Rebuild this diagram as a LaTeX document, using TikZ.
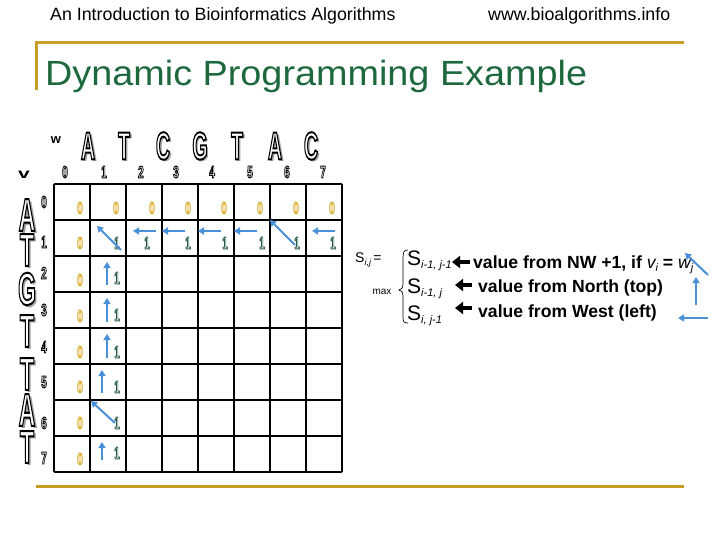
\documentclass[tikz,border=0pt]{standalone}
\usepackage{fontspec}
\setmainfont{Liberation Sans}
\usepackage{graphicx}
\usetikzlibrary{arrows.meta}
\definecolor{gold}{RGB}{198,158,40}
\definecolor{titlegreen}{RGB}{30,104,62}
\definecolor{arrowblue}{RGB}{74,144,217}
\definecolor{shadowgray}{RGB}{160,160,160}
% outlined (hollow) text: fill white, stroke in given rgb, via PDF text render mode 2
\newcommand\OT[4]{\special{pdf:literal direct #1 RG 2 Tr #2 w}\scalebox{#3}[1]{#4}\special{pdf:literal direct 0 Tr 0.4 w}}
\newcommand\BL[1]{\OT{0 0 0}{2.0}{0.5}{#1}}
\newcommand\BS[1]{\scalebox{0.5}[1]{#1}}
\newcommand\DK[1]{\OT{0 0 0}{1.0}{0.6}{#1}}
\newcommand\DZ[1]{\OT{0.84 0.66 0.10}{1.0}{0.6}{#1}}
\newcommand\DO[1]{\OT{0.14 0.34 0.26}{1.0}{0.6}{#1}}
\tikzset{
  goldline/.style={draw=gold, line width=3pt},
  gridline/.style={draw=black, line width=1.2pt},
  bigw/.style={text=white, inner sep=0pt, font=\bfseries\fontsize{39}{39}\selectfont},
  bigwsh/.style={bigw, text=shadowgray},
  bigv/.style={text=white, inner sep=0pt, font=\bfseries\fontsize{46}{46}\selectfont},
  bigvsh/.style={bigv, text=shadowgray},
  dig/.style={text=white, inner sep=0pt, font=\bfseries\fontsize{17}{17}\selectfont},
  barrow/.style={draw=arrowblue, line width=2pt, -{Triangle[length=6pt,width=7pt]}},
  karrow/.style={draw=black, line width=3.2pt, -{Triangle[length=8pt,width=12pt]}},
  legend/.style={anchor=base west, inner sep=0pt, font=\bfseries\fontsize{17.6}{20}\selectfont},
}
\begin{document}
\begin{tikzpicture}[x=1pt,y=-1pt]
\useasboundingbox (0,0) rectangle (720,540);
% header
\node[anchor=base west, inner sep=0pt, font=\fontsize{17.8}{20}\selectfont] (hdr) at (50,21) {An Introduction to Bioinformatics Algorithms};
\node[anchor=base west, inner sep=0pt, font=\fontsize{17.8}{20}\selectfont] (url) at (488,21) {www.bioalgorithms.info};
% gold rules
\draw[goldline] (36,90) -- (36,43) -- (684,43);
\draw[goldline] (36,486) -- (684,486);
% title
\node[anchor=base west, inner sep=0pt, text=titlegreen, font=\fontsize{35}{40}\selectfont] (title) at (45,86) {\scalebox{1.08}[1]{Dynamic Programming Example}};
% labels w and v
\node[inner sep=0pt, font=\bfseries\fontsize{13}{13}\selectfont] (wl) at (56,140) {w};
\node[inner sep=0pt, font=\bfseries\fontsize{14}{14}\selectfont] (vl) at (24,175) {\scalebox{1.5}[1]{v}};
% w letters
\foreach \ch/\x [count=\k] in {A/88,T/124,C/163,G/200,T/237,A/275,C/311}{
  \node[bigwsh] (ws\k) at ({\x+2.5},148.5) {\BS{\ch}};
  \node[bigw] (w\k) at (\x,146) {\BL{\ch}};
}
% v letters
\foreach \ch/\y [count=\k] in {A/215,T/250,G/289,T/331,T/374,A/410,T/447}{
  \node[bigvsh] (vs\k) at (29.5,{\y+2.5}) {\BS{\ch}};
  \node[bigv] (v\k) at (27,\y) {\BL{\ch}};
}
% column indices
\foreach \d/\x in {0/65,1/104,2/141,3/176,4/212,5/250,6/287,7/323}{
  \node[dig] (ci\d) at (\x,172) {\DK{\d}};
}
% row indices
\foreach \d/\y in {0/202,1/242,2/273,3/310,4/347,5/382,6/423,7/458}{
  \node[dig] (ri\d) at (44,\y) {\DK{\d}};
}
% grid
\foreach \i in {0,...,8}{
  \draw[gridline] ({54+36*\i},184) -- ({54+36*\i},472);
  \draw[gridline] (54,{184+36*\i}) -- (342,{184+36*\i});
}
% zeros
\foreach \c in {0,...,7}{
  \node[dig] (z0\c) at ({80+36*\c},208) {\DZ{0}};
}
\foreach \r/\y in {1/243,2/280,3/316,4/352,5/387,6/423,7/459}{
  \node[dig] (z\r0) at (80,\y) {\DZ{0}};
}
% ones
\foreach \c/\x in {1/117,2/147,3/188,4/225,5/262,6/297,7/333}{
  \node[dig] (o1\c) at (\x,243) {\DO{1}};
}
\foreach \r/\y in {2/278,3/315,4/352,5/387,6/423,7/453}{
  \node[dig] (o\r1) at (117,\y) {\DO{1}};
}
% backtrack arrows
\draw[barrow] (121,250) -- (97,226);
\draw[barrow] (156,231) -- (133,231);
\draw[barrow] (185,231) -- (162,231);
\draw[barrow] (221,231) -- (198,231);
\draw[barrow] (257,231) -- (234,231);
\draw[barrow] (295,245) -- (270,220);
\draw[barrow] (335,231) -- (312,231);
\draw[barrow] (107,285) -- (107,262);
\draw[barrow] (107,322) -- (107,298);
\draw[barrow] (107,358) -- (107,334);
\draw[barrow] (102,393) -- (102,370);
\draw[barrow] (115,423) -- (91,401);
\draw[barrow] (102,460) -- (102,442);
% recurrence
\node[anchor=base west, inner sep=0pt, font=\fontsize{14}{14}\selectfont] (sij) at (355,262) {S\raisebox{-3pt}{\fontsize{9}{9}\selectfont\itshape i,j}\,=};
\node[inner sep=0pt, font=\fontsize{10}{10}\selectfont] (max) at (382,292) {max};
\draw[line width=0.7pt] (408,250) .. controls (404,250) and (403,252) .. (403,258) -- (403,284) .. controls (403,288) and (401,290) .. (399,290) .. controls (401,290) and (403,292) .. (403,296) -- (403,317) .. controls (403,322) and (404,323) .. (408,323);
\node[anchor=base west, inner sep=0pt, font=\fontsize{21}{21}\selectfont] (s1) at (407,265) {S\raisebox{-3pt}{\fontsize{11}{11}\selectfont\itshape i-1, j-1}};
\node[anchor=base west, inner sep=0pt, font=\fontsize{21}{21}\selectfont] (s2) at (407,293) {S\raisebox{-3pt}{\fontsize{11}{11}\selectfont\itshape i-1, j}};
\node[anchor=base west, inner sep=0pt, font=\fontsize{21}{21}\selectfont] (s3) at (407,320) {S\raisebox{-3pt}{\fontsize{11}{11}\selectfont\itshape i, j-1}};
\coordinate (a1s) at (470,262); \coordinate (a1e) at (452,262);
\coordinate (a2s) at (472,285); \coordinate (a2e) at (455,285);
\coordinate (a3s) at (472,308); \coordinate (a3e) at (455,308);
\draw[karrow] (a1s) -- (a1e);
\draw[karrow] (a2s) -- (a2e);
\draw[karrow] (a3s) -- (a3e);
\node[legend] (t1) at (473,268) {value from NW +1, if {\mdseries\itshape v\raisebox{-3pt}{\fontsize{11}{11}\selectfont i}} = {\mdseries\itshape w\raisebox{-3pt}{\fontsize{11}{11}\selectfont j}}};
\node[legend] (t2) at (478,292) {value from North (top)};
\node[legend] (t3) at (478,317) {value from West (left)};
% legend arrows
\draw[barrow] (708,275) -- (685,253);
\draw[barrow] (696,305) -- (696,277);
\draw[barrow] (708,318) -- (678,318);
\end{tikzpicture}
\end{document}
